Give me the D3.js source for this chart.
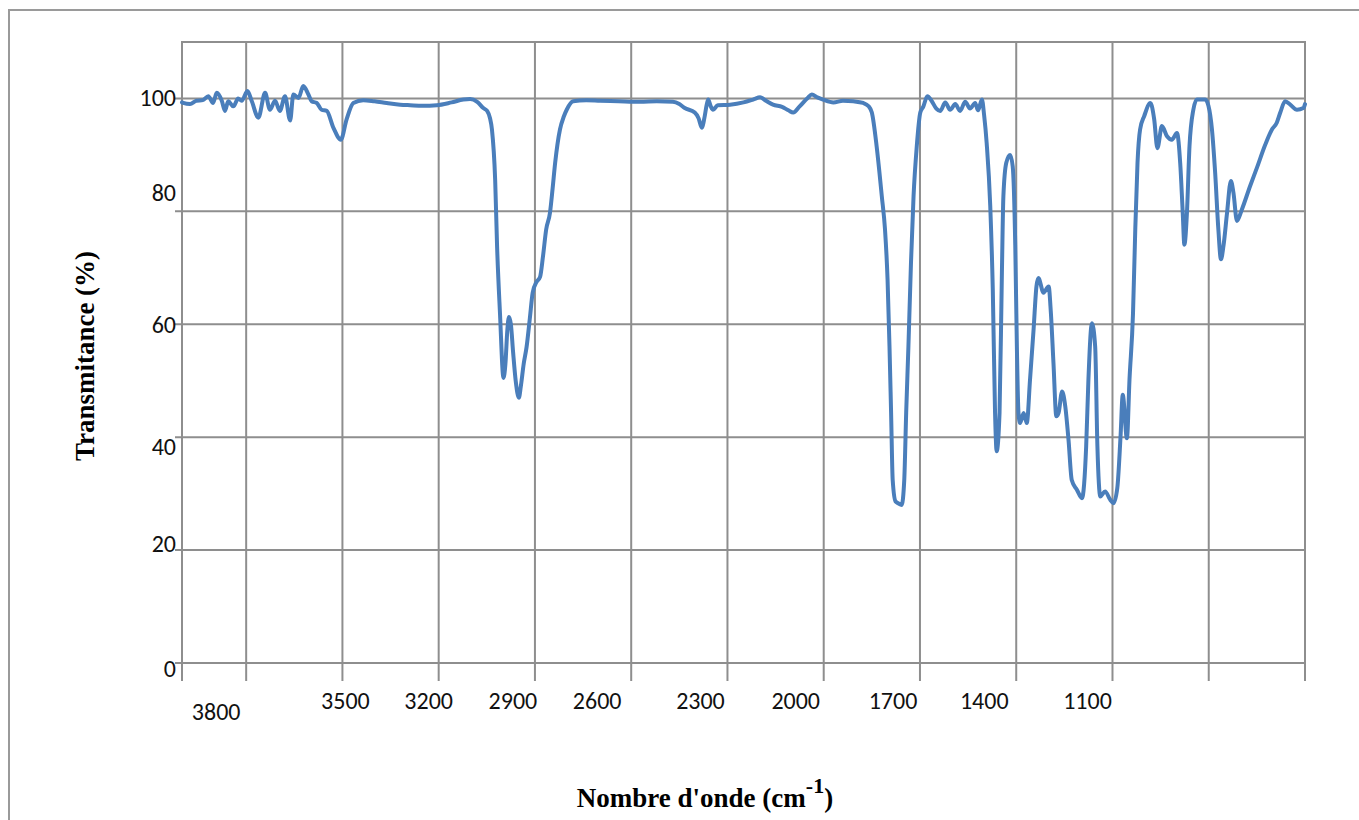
<!DOCTYPE html>
<html>
  <head>
    <title>IR spectrum</title>
    <meta charset="utf-8" />
    <script src="https://d3js.org/d3.v7.min.js"></script>
    <style>
      body {
        margin: 0;
        background: #ffffff;
      }
      .tick-label {
        font-family: Carlito, Lato, "Open Sans", sans-serif;
        font-size: 24px;
        fill: #111;
      }
      .axis-title {
        font-family: "Liberation Serif", "Times New Roman", serif;
        font-weight: bold;
        font-size: 27px;
        fill: #000;
      }
    </style>
  </head>

  <body>
    <script>
      // wavenumber (cm-1), left to right
      const wavenumbers = [
        4000, 3996, 3975, 3955, 3935, 3918, 3903, 3892, 3876, 3866, 3856, 3840,
        3825, 3814, 3796, 3783, 3762, 3741, 3726, 3710, 3695, 3679, 3663, 3653,
        3637, 3622, 3606, 3596, 3580, 3565, 3549, 3528, 3505, 3487, 3466, 3435,
        3400, 3362, 3320, 3289, 3250, 3206, 3160, 3123, 3102, 3080, 3061, 3049,
        3040, 3034, 3024, 3018, 3009, 2998, 2992, 2986, 2981, 2975, 2968, 2960,
        2950, 2944, 2935, 2926, 2916, 2907, 2895, 2884, 2875, 2865, 2853, 2845,
        2837, 2822, 2810, 2801, 2781, 2740, 2697, 2640, 2572, 2520, 2470, 2450,
        2433, 2402, 2390, 2380, 2372, 2365, 2360, 2352, 2345, 2330, 2292, 2250,
        2220, 2198, 2180, 2158, 2130, 2110, 2095, 2075, 2050, 2037, 2020, 2002,
        1970, 1940, 1908, 1877, 1860, 1850, 1835, 1819, 1809, 1801, 1795, 1790,
        1785, 1776, 1768, 1757, 1749, 1743, 1736, 1728, 1720, 1710, 1699, 1690,
        1677, 1663, 1649, 1637, 1621, 1606, 1590, 1575, 1559, 1544, 1528, 1519,
        1507, 1500, 1492, 1481, 1473, 1466, 1461, 1452, 1445, 1440, 1431, 1419,
        1411, 1403, 1398, 1393, 1388, 1377, 1367, 1357, 1346, 1337, 1331, 1315,
        1299, 1292, 1284, 1275, 1268, 1257, 1247, 1237, 1227, 1211, 1195, 1182,
        1175, 1164, 1154, 1147, 1138, 1123, 1107, 1097, 1085, 1075, 1068, 1055,
        1047, 1036, 1029, 1022, 1014, 1001, 982, 970, 960, 946, 930, 915,
        899, 889, 881, 876, 868, 860, 848, 837, 811, 801, 790, 780,
        770, 762, 754, 743, 731, 723, 712, 697, 671, 650, 624, 603,
        588, 577, 562, 546, 525, 505, 500
      ];

      // transmittance (%) matching each wavenumber above
      const transmittance = [
        99.3, 99.2, 99.0, 99.6, 99.7, 100.4, 99.2, 101.0, 99.6, 97.8, 99.5, 98.6,
        100.0, 99.6, 101.3, 99.6, 96.6, 101.0, 98.0, 99.6, 97.8, 100.4, 96.1, 100.7,
        100.1, 102.2, 100.7, 99.5, 99.2, 98.0, 97.8, 94.8, 92.7, 96.3, 99.2, 99.7,
        99.5, 99.2, 98.9, 98.8, 98.7, 98.8, 99.3, 99.8, 99.9, 99.4, 98.3, 97.8,
        96.5, 94.5, 85.6, 73.8, 62.0, 50.5, 53.0, 59.0, 61.3, 60.0, 55.0, 50.0,
        47.0, 49.0, 53.0, 56.0, 61.0, 65.6, 67.5, 68.4, 72.0, 76.8, 79.8, 84.0,
        88.6, 94.5, 96.8, 98.0, 99.5, 99.7, 99.6, 99.5, 99.4, 99.5, 99.4, 99.0,
        98.3, 97.5, 96.5, 94.8, 96.5, 98.8, 99.8, 98.6, 98.0, 98.8, 98.9, 99.3,
        99.8, 100.2, 99.6, 98.9, 98.5, 97.9, 97.5, 98.6, 100.1, 100.7, 100.2, 99.8,
        99.3, 99.6, 99.5, 99.2, 98.6, 97.5, 91.5, 82.7, 76.8, 67.9, 56.1, 44.3,
        32.4, 28.6, 28.3, 28.0, 32.4, 44.3, 56.1, 70.9, 82.7, 91.5, 97.5, 98.5,
        100.4, 99.5, 98.2, 97.8, 99.3, 98.0, 99.0, 97.8, 99.4, 98.2, 99.2, 97.9,
        99.8, 97.0, 92.0, 81.0, 66.0, 44.3, 37.5, 44.3, 67.9, 82.7, 88.6, 90.0,
        88.0, 73.9, 56.1, 44.3, 42.5, 44.3, 42.5, 50.2, 59.0, 66.7, 68.2, 65.6,
        66.7, 62.0, 53.2, 43.7, 44.3, 48.1, 45.4, 39.5, 32.4, 30.7, 29.2, 38.4,
        50.2, 60.2, 56.1, 38.4, 29.5, 30.4, 28.9, 28.3, 31.0, 40.0, 47.5, 39.8,
        50.2, 62.0, 76.8, 88.6, 94.5, 96.9, 99.2, 96.3, 91.2, 95.1, 93.3, 92.7,
        93.9, 88.6, 79.7, 74.1, 79.7, 91.5, 98.0, 99.8, 99.8, 98.7, 94.5, 86.8,
        76.8, 71.5, 73.9, 79.7, 85.4, 83.3, 78.3, 80.3, 84.5, 87.7, 91.8, 94.5,
        95.7, 97.5, 99.5, 98.9, 98.0, 98.3, 99.0
      ];

      const xGridValues = [3800, 3500, 3200, 2900, 2600, 2300, 2000, 1700, 1400, 1100, 800];
      const xTickLabels = ["3800", "3500", "3200", "2900", "2600", "2300", "2000", "1700", "1400", "1100", ""];
      const yTickValues = [0, 20, 40, 60, 80, 100];
      const yTickLabels = ["0", "20", "40", "60", "80", "100"];

      // label nudges as they sit in the picture (px)
      const xLabelShift = [[-30, 48], [3, 37], [-10, 37], [-22, 37], [-34, 37], [-27, 37],
                           [-28, 37], [-27, 37], [-32, 37], [-25, 37], [0, 37]];
      const yLabelShift = [5, -7, 9, 0, -19, -1];

      const width = 1359;
      const height = 820;
      const plot = { left: 182, right: 1305, top: 42, bottom: 663 };

      const svg = d3
        .select("body")
        .append("svg")
        .attr("width", width)
        .attr("height", height);

      svg
        .append("rect")
        .attr("width", width)
        .attr("height", height)
        .attr("fill", "#fff");

      // outer chart frame (runs off the bottom/right of the picture)
      svg
        .append("rect")
        .attr("x", 9)
        .attr("y", 10)
        .attr("width", width)
        .attr("height", height)
        .attr("fill", "none")
        .attr("stroke", "#9a9a9a")
        .attr("stroke-width", 2);

      const x = d3.scaleLinear().domain([4000, 500]).range([plot.left, plot.right]);
      const y = d3.scaleLinear().domain([0, 110]).range([plot.bottom, plot.top]);

      const gridColor = "#8e8e8e";

      // horizontal grid
      svg
        .append("g")
        .selectAll("line")
        .data(yTickValues)
        .enter()
        .append("line")
        .attr("x1", plot.left - 7)
        .attr("x2", plot.right)
        .attr("y1", (d) => y(d))
        .attr("y2", (d) => y(d))
        .attr("stroke", gridColor)
        .attr("stroke-width", 2);

      // vertical grid + ticks below the axis
      svg
        .append("g")
        .selectAll("line")
        .data(xGridValues)
        .enter()
        .append("line")
        .attr("x1", (d) => x(d))
        .attr("x2", (d) => x(d))
        .attr("y1", plot.top)
        .attr("y2", plot.bottom + 18)
        .attr("stroke", gridColor)
        .attr("stroke-width", 2);

      // plot border
      svg
        .append("rect")
        .attr("x", plot.left)
        .attr("y", plot.top)
        .attr("width", plot.right - plot.left)
        .attr("height", plot.bottom - plot.top)
        .attr("fill", "none")
        .attr("stroke", gridColor)
        .attr("stroke-width", 2);

      // end ticks on the x axis
      svg
        .append("g")
        .selectAll("line")
        .data([4000, 500])
        .enter()
        .append("line")
        .attr("x1", (d) => x(d))
        .attr("x2", (d) => x(d))
        .attr("y1", plot.bottom)
        .attr("y2", plot.bottom + 18)
        .attr("stroke", gridColor)
        .attr("stroke-width", 2);

      // spectrum
      const points = wavenumbers.map((w, i) => [w, transmittance[i]]);
      const line = d3
        .line()
        .x((d) => x(d[0]))
        .y((d) => y(d[1]))
        .curve(d3.curveMonotoneX);

      svg
        .append("path")
        .datum(points)
        .attr("d", line)
        .attr("fill", "none")
        .attr("stroke", "#4a7ebb")
        .attr("stroke-width", 4)
        .attr("stroke-linejoin", "round")
        .attr("stroke-linecap", "round");

      // y tick labels
      svg
        .append("g")
        .selectAll("text")
        .data(yTickValues)
        .enter()
        .append("text")
        .attr("class", "tick-label")
        .attr("text-anchor", "end")
        .attr("dominant-baseline", "central")
        .attr("x", plot.left - 6)
        .attr("y", (d, i) => y(d) + yLabelShift[i])
        .text((d, i) => yTickLabels[i]);

      // x tick labels
      svg
        .append("g")
        .selectAll("text")
        .data(xGridValues)
        .enter()
        .append("text")
        .attr("class", "tick-label")
        .attr("text-anchor", "middle")
        .attr("dominant-baseline", "central")
        .attr("x", (d, i) => x(d) + xLabelShift[i][0])
        .attr("y", (d, i) => plot.bottom + xLabelShift[i][1])
        .text((d, i) => xTickLabels[i]);

      // axis titles
      svg
        .append("text")
        .attr("class", "axis-title")
        .attr("text-anchor", "middle")
        .attr("transform", "translate(94,356) rotate(-90)")
        .text("Transmitance (%)");

      const xTitle = svg
        .append("text")
        .attr("class", "axis-title")
        .attr("text-anchor", "middle")
        .attr("x", 705)
        .attr("y", 807);
      xTitle.append("tspan").text("Nombre d'onde (cm");
      xTitle.append("tspan").attr("dy", -14).attr("font-size", "22px").text("-1");
      xTitle.append("tspan").attr("dy", 14).text(")");
    </script>
  </body>
</html>
